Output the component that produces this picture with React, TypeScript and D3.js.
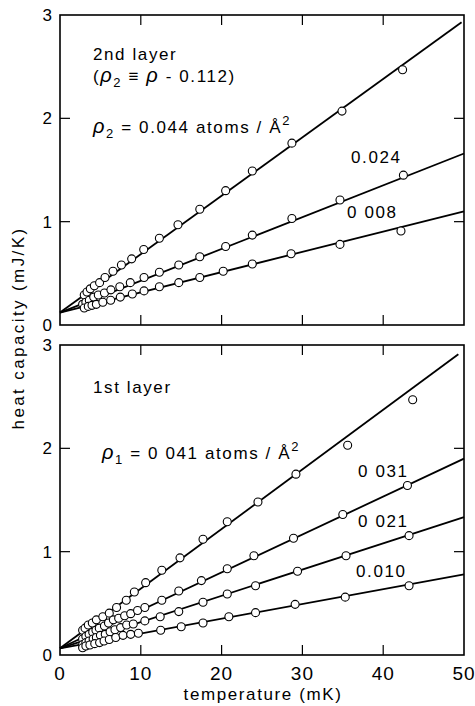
import React from "react";
import * as d3 from "d3";

// ---- data: 2nd layer (top panel) ----
const top044T = [3.0, 3.34, 3.75, 4.25, 4.9, 5.57, 6.56, 7.6, 8.87, 10.36, 12.3, 14.6, 17.3, 20.5, 23.8, 28.7, 34.9, 42.4];
const top044C = [0.29, 0.32, 0.35, 0.38, 0.41, 0.46, 0.52, 0.58, 0.64, 0.73, 0.84, 0.97, 1.12, 1.3, 1.49, 1.76, 2.07, 2.47];
const top024T = [2.8, 3.2, 3.63, 4.17, 4.74, 5.5, 6.3, 7.4, 8.7, 10.4, 12.3, 14.7, 17.3, 20.5, 23.8, 28.7, 34.65, 42.5];
const top024C = [0.2, 0.22, 0.24, 0.27, 0.29, 0.31, 0.34, 0.37, 0.41, 0.46, 0.51, 0.58, 0.66, 0.76, 0.87, 1.03, 1.21, 1.45];
const top008T = [3.0, 3.5, 3.96, 4.5, 5.3, 6.27, 7.46, 8.95, 10.4, 12.3, 14.7, 17.3, 20.2, 23.8, 28.6, 34.65, 42.2];
const top008C = [0.165, 0.18, 0.19, 0.2, 0.22, 0.24, 0.27, 0.3, 0.33, 0.37, 0.41, 0.46, 0.52, 0.59, 0.69, 0.78, 0.91];
const topFit044: [number, number][] = [[0, 0.12], [49.7, 2.93]];
const topFit024: [number, number][] = [[0, 0.12], [50, 1.66]];
const topFit008: [number, number][] = [[0, 0.12], [50, 1.1]];

// ---- data: 1st layer (bottom panel) ----
const bot041T = [2.8, 3.1, 3.5, 4.0, 4.5, 5.3, 6.1, 7.0, 8.2, 9.2, 10.6, 12.6, 14.85, 17.7, 20.7, 24.5, 29.2, 35.6, 43.65];
const bot041C = [0.24, 0.26, 0.29, 0.31, 0.34, 0.37, 0.405, 0.46, 0.53, 0.61, 0.7, 0.82, 0.94, 1.12, 1.29, 1.48, 1.75, 2.03, 2.47];
const bot031T = [2.8, 3.2, 3.6, 4.05, 4.45, 4.86, 5.5, 6.0, 6.6, 7.26, 8.0, 8.75, 9.6, 10.5, 12.6, 14.7, 17.5, 20.7, 24.0, 28.9, 35.0, 43.0];
const bot031C = [0.155, 0.18, 0.2, 0.22, 0.24, 0.26, 0.28, 0.31, 0.34, 0.355, 0.38, 0.4, 0.43, 0.46, 0.53, 0.62, 0.72, 0.835, 0.96, 1.13, 1.36, 1.64];
const bot021T = [2.8, 3.2, 3.6, 4.1, 4.5, 5.0, 5.6, 6.2, 6.8, 7.5, 8.25, 9.07, 10.5, 12.4, 14.7, 17.7, 20.7, 24.2, 29.4, 35.4, 43.2];
const bot021C = [0.1, 0.12, 0.135, 0.155, 0.17, 0.19, 0.2, 0.225, 0.245, 0.265, 0.29, 0.3, 0.33, 0.37, 0.42, 0.51, 0.59, 0.67, 0.81, 0.96, 1.155];
const bot010T = [2.8, 3.2, 3.7, 4.3, 4.9, 5.45, 6.1, 6.9, 7.8, 8.75, 9.7, 12.46, 15.0, 17.7, 20.9, 24.2, 29.1, 35.3, 43.2];
const bot010C = [0.07, 0.087, 0.097, 0.11, 0.12, 0.135, 0.15, 0.17, 0.19, 0.2, 0.21, 0.24, 0.274, 0.31, 0.37, 0.41, 0.49, 0.56, 0.67];
const botFit041: [number, number][] = [[0, 0.065], [49.3, 2.91]];
const botFit031: [number, number][] = [[0, 0.065], [50, 1.9]];
const botFit021: [number, number][] = [[0, 0.065], [50, 1.335]];
const botFit010: [number, number][] = [[0, 0.065], [50, 0.78]];

const xTicks = [0, 10, 20, 30, 40, 50];
const yTicks = [0, 1, 2, 3];

const FONT = "'Liberation Sans', Arial, sans-serif";

const x = d3.scaleLinear().domain([0, 50]).range([60, 464]);
const yTop = d3.scaleLinear().domain([0, 3]).range([325, 15]);
const yBot = d3.scaleLinear().domain([0, 3]).range([655, 345]);

type Series = { T: number[]; C: number[]; fit: [number, number][] };

const topSeries: Series[] = [
  { T: top044T, C: top044C, fit: topFit044 },
  { T: top024T, C: top024C, fit: topFit024 },
  { T: top008T, C: top008C, fit: topFit008 },
];
const botSeries: Series[] = [
  { T: bot041T, C: bot041C, fit: botFit041 },
  { T: bot031T, C: bot031C, fit: botFit031 },
  { T: bot021T, C: bot021C, fit: botFit021 },
  { T: bot010T, C: bot010C, fit: botFit010 },
];

function Panel({ y, series, showXLabels }: { y: d3.ScaleLinear<number, number>; series: Series[]; showXLabels: boolean }) {
  const [x0, x1] = x.range();
  const [y0, y1] = y.range();
  const line = d3.line<[number, number]>().x((d) => x(d[0])).y((d) => y(d[1]));
  const tl = 10;
  return (
    <g>
      {series.map((s, i) => (
        <path key={"l" + i} d={line(s.fit) || ""} fill="none" stroke="#000" strokeWidth={1.8} />
      ))}
      {series.map((s, i) =>
        s.T.map((t, j) => (
          <circle key={"c" + i + "-" + j} cx={x(t)} cy={y(s.C[j])} r={4} fill="#fff" stroke="#000" strokeWidth={1.1} />
        ))
      )}
      <rect x={x0} y={y1} width={x1 - x0} height={y0 - y1} fill="none" stroke="#000" strokeWidth={1.6} />
      {xTicks.slice(1, -1).map((t) => (
        <g key={"xt" + t}>
          <line x1={x(t)} x2={x(t)} y1={y0} y2={y0 - tl} stroke="#000" strokeWidth={1.2} />
          <line x1={x(t)} x2={x(t)} y1={y1} y2={y1 + tl} stroke="#000" strokeWidth={1.2} />
        </g>
      ))}
      {yTicks.slice(1, -1).map((t) => (
        <g key={"yt" + t}>
          <line x1={x0} x2={x0 + tl} y1={y(t)} y2={y(t)} stroke="#000" strokeWidth={1.2} />
          <line x1={x1} x2={x1 - tl} y1={y(t)} y2={y(t)} stroke="#000" strokeWidth={1.2} />
        </g>
      ))}
      {yTicks.map((t) => (
        <text key={"yl" + t} x={x0 - 8} y={y(t)} dy="0.36em" textAnchor="end" fontSize={17} fontFamily={FONT}>
          {t}
        </text>
      ))}
      {showXLabels &&
        xTicks.map((t) => (
          <text key={"xl" + t} x={x(t)} y={y0 + 25} textAnchor="middle" fontSize={19} letterSpacing={1} fontFamily={FONT}>
            {t}
          </text>
        ))}
    </g>
  );
}

const Rho = ({ sub }: { sub: string }) => (
  <>
    <tspan fontStyle="italic" fontSize={20}>ρ</tspan>
    <tspan fontSize={13} dy={5}>{sub}</tspan>
  </>
);

export default function App() {
  const ts = { fontFamily: FONT, fontSize: 17, letterSpacing: 1.6 } as const;
  return (
    <svg width={475} height={706} style={{ position: "absolute", left: 0, top: 0, background: "#fff" }}>
      <Panel y={yTop} series={topSeries} showXLabels={false} />
      <Panel y={yBot} series={botSeries} showXLabels={true} />

      {/* top panel annotations */}
      <text x={93} y={60} {...ts}>2nd layer</text>
      <text x={93} y={82} {...ts}>
        (<Rho sub="2" /><tspan dy={-5}> ≡ </tspan><tspan fontStyle="italic" fontSize={20}>ρ</tspan> - 0.112)
      </text>
      <text x={93} y={133} {...ts}>
        <Rho sub="2" />
        <tspan dy={-5}> = 0.044 atoms / Å</tspan>
        <tspan fontSize={13} dy={-8}>2</tspan>
      </text>
      <text x={351} y={163} {...ts}>0.024</text>
      <text x={347} y={218} {...ts}>0 008</text>

      {/* bottom panel annotations */}
      <text x={93} y={393} {...ts}>1st layer</text>
      <text x={102} y={459} {...ts}>
        <Rho sub="1" />
        <tspan dy={-5}> = 0 041 atoms / Å</tspan>
        <tspan fontSize={13} dy={-8}>2</tspan>
      </text>
      <text x={358} y={477} {...ts}>0 031</text>
      <text x={358} y={527} {...ts}>0 021</text>
      <text x={356} y={577} {...ts}>0.010</text>

      {/* axis titles */}
      <text x={263} y={700} textAnchor="middle" {...ts}>temperature (mK)</text>
      <text transform="translate(24,328) rotate(-90)" textAnchor="middle" fontFamily={FONT} fontSize={17} letterSpacing={2.4}>
        heat capacity (mJ/K)
      </text>
    </svg>
  );
}
